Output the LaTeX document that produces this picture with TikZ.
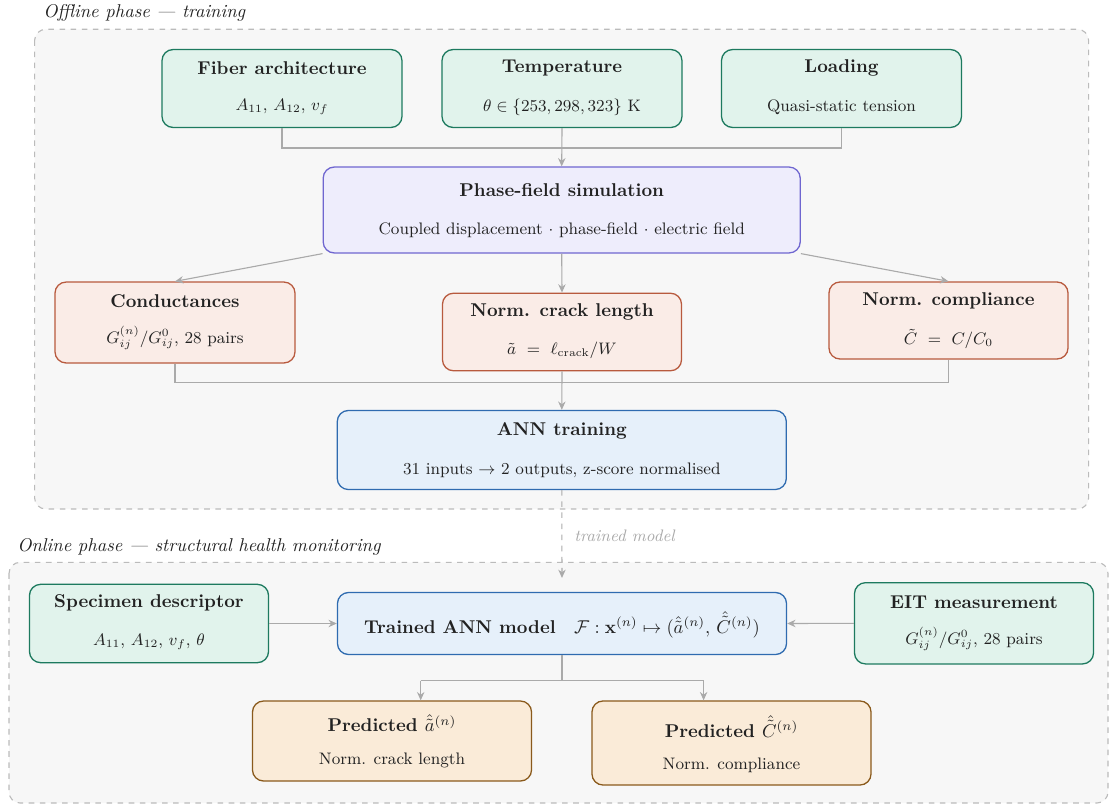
\documentclass[tikz,border=0pt]{standalone}
\usepackage{amsmath,amssymb}
\usetikzlibrary{arrows.meta}
\definecolor{grnB}{HTML}{1D7A5F}\definecolor{grnF}{HTML}{E1F3EC}
\definecolor{lavB}{HTML}{6F66D0}\definecolor{lavF}{HTML}{EEEDFC}
\definecolor{redB}{HTML}{B85A3E}\definecolor{redF}{HTML}{FAECE7}
\definecolor{bluB}{HTML}{2F6BB0}\definecolor{bluF}{HTML}{E6F0FA}
\definecolor{orgB}{HTML}{8A5A1C}\definecolor{orgF}{HTML}{FAEBD8}
\definecolor{conC}{HTML}{AAAAAA}\definecolor{panF}{HTML}{F7F7F7}\definecolor{panB}{HTML}{BBBBBB}
\definecolor{txt}{HTML}{222222}
\tikzset{
  panel/.style={draw=panB, fill=panF, dashed, line width=0.6pt, rounded corners=6pt},
  box/.style={draw, rounded corners=6pt, line width=0.7pt, inner sep=0pt},
  gbox/.style={box, draw=grnB, fill=grnF},
  lbox/.style={box, draw=lavB, fill=lavF},
  rbox/.style={box, draw=redB, fill=redF},
  bbox/.style={box, draw=bluB, fill=bluF},
  obox/.style={box, draw=orgB, fill=orgF},
  ttl/.style={font=\bfseries, text=txt, inner sep=0pt},
  bdy/.style={font=\small, text=txt, inner sep=0pt},
  phase/.style={font=\itshape, text=txt, inner sep=0pt, anchor=west},
  conn/.style={draw=conC, line width=0.6pt},
  arr/.style={conn, -{Stealth[length=4.5pt,width=4pt]}},
}
\begin{document}
\begin{tikzpicture}[x=0.54pt,y=-0.54pt]
\useasboundingbox (0,0) rectangle (1111,805);
% panels
\draw[panel] (34.6,29.3) rectangle (1088.6,509);
\node[phase] (offl) at (43,13) {Offline phase --- training};
\draw[panel] (9,562.3) rectangle (1108,803);
\node[phase] (onl) at (17,546.7) {Online phase --- structural health monitoring};

% offline nodes
\node[gbox, minimum width=129.6pt, minimum height=42.1pt] (fib) at (282,88.5) {};
\node[ttl] (fibT) at (282,68) {Fiber architecture};
\node[bdy] (fibB) at (282,107) {$A_{11}$, $A_{12}$, $v_f$};

\node[gbox, minimum width=129.6pt, minimum height=42.1pt] (tmp) at (562,88.5) {};
\node[ttl] (tmpT) at (562,68) {Temperature};
\node[bdy] (tmpB) at (562,107) {$\theta\in\{253,298,323\}$ K};

\node[gbox, minimum width=129.6pt, minimum height=42.1pt] (lod) at (841.5,88.5) {};
\node[ttl] (lodT) at (841.5,68) {Loading};
\node[bdy] (lodB) at (841.5,107) {Quasi-static tension};

\node[lbox, minimum width=257.6pt, minimum height=46.4pt] (pf) at (561.7,210) {};
\node[ttl] (pfT) at (561.7,190) {Phase-field simulation};
\node[bdy] (pfB) at (561.7,230) {Coupled displacement $\cdot$ phase-field $\cdot$ electric field};

\node[rbox, minimum width=129.6pt, minimum height=43.7pt] (cnd) at (175,322.5) {};
\node[ttl] (cndT) at (175,300.7) {Conductances};
\node[bdy] (cndB) at (175,338) {$G^{(n)}_{ij}/G^{0}_{ij}$, 28 pairs};

\node[rbox, minimum width=129.1pt, minimum height=41.9pt] (crk) at (562,332) {};
\node[ttl] (crkT) at (562,312) {Norm. crack length};
\node[bdy] (crkB) at (562,350) {$\tilde{a}\ =\ \ell_{\mathrm{crack}}/W$};

\node[rbox, minimum width=129.1pt, minimum height=41.6pt] (cmp) at (948.5,320.5) {};
\node[ttl] (cmpT) at (948.5,300.7) {Norm. compliance};
\node[bdy] (cmpB) at (948.5,339) {$\tilde{C}\ =\ C/C_0$};

\node[bbox, minimum width=242.5pt, minimum height=42.7pt] (ann) at (561.8,450) {};
\node[ttl] (annT) at (561.8,431) {ANN training};
\node[bdy] (annB) at (561.8,470) {31 inputs $\rightarrow$ 2 outputs, z-score normalised};

% offline connectors
\coordinate (j1) at (562,148);
\draw[conn] (fib.south) |- (j1) -| (lod.south);
\draw[arr] (tmp.south) -- (pf.north);
\draw[arr] (pf.south west) -- (cnd.north);
\draw[arr] (pf.south) -- (crk.north);
\draw[arr] (pf.south east) -- (cmp.north);
\coordinate (j2) at (562,382.7);
\draw[conn] (cnd.south) |- (j2) -| (cmp.south);
\draw[arr] (crk.south) -- (ann.north);

% online nodes
\node[gbox, minimum width=129.1pt, minimum height=42.3pt] (spc) at (149,623.5) {};
\node[ttl] (spcT) at (149,603.3) {Specimen descriptor};
\node[bdy] (spcB) at (149,641.7) {$A_{11}$, $A_{12}$, $v_f$, $\theta$};

\node[bbox, minimum width=242.5pt, minimum height=33.5pt] (tm) at (562,623.5) {};
\node[ttl] (tmT) at (562,625) {Trained ANN model\quad\mdseries$\mathcal{F}:\mathbf{x}^{(n)}\mapsto(\hat{\tilde{a}}^{(n)},\,\hat{\tilde{C}}^{(n)})$};

\node[gbox, minimum width=129.1pt, minimum height=43.9pt] (eit) at (974,623.3) {};
\node[ttl] (eitT) at (974,602) {EIT measurement};
\node[bdy] (eitB) at (974,639) {$G^{(n)}_{ij}/G^{0}_{ij}$, 28 pairs};

\node[obox, minimum width=150.7pt, minimum height=43.2pt] (pa) at (392,741) {};
\node[ttl] (paT) at (392,723.3) {Predicted $\hat{\tilde{a}}^{(n)}$};
\node[bdy] (paB) at (392,760.7) {Norm. crack length};

\node[obox, minimum width=150.7pt, minimum height=45.4pt] (pc) at (731.5,743) {};
\node[ttl] (pcT) at (731.5,726.7) {Predicted $\hat{\tilde{C}}^{(n)}$};
\node[bdy] (pcB) at (731.5,765) {Norm. compliance};

% online connectors
\draw[arr, dashed, shorten >=7.5pt] (ann.south) -- (tm.north);
\node[font=\small\itshape, text=conC, anchor=west, inner sep=0pt] (tml) at (574,535.7) {trained model};
\draw[arr] (spc.east) -- (tm.west);
\draw[arr] (eit.west) -- (tm.east);
\coordinate (j3) at (562,680.7);
\coordinate (ja) at (420.7,680.7);
\coordinate (jc) at (703.6,680.7);
\draw[conn] (tm.south) -- (j3);
\draw[conn] (ja) -- (jc);
\draw[arr] (ja) -- (ja |- pa.north);
\draw[arr] (jc) -- (jc |- pc.north);
\end{tikzpicture}
\end{document}
